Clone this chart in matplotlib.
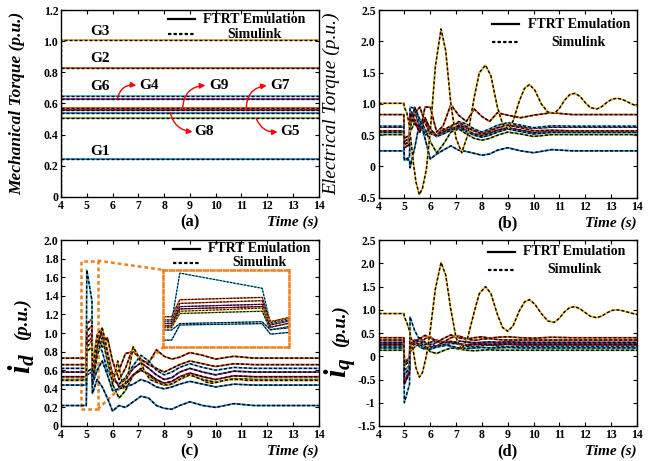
import matplotlib
matplotlib.use('agg')
import matplotlib.pyplot as plt
from matplotlib.patches import Rectangle

plt.rcParams['font.family'] = 'Liberation Serif'
plt.rcParams['font.weight'] = 'bold'
plt.rcParams['mathtext.fontset'] = 'custom'
plt.rcParams['mathtext.it'] = 'Liberation Serif:italic:bold'
plt.rcParams['mathtext.rm'] = 'Liberation Serif:bold'
plt.rcParams['xtick.direction'] = 'in'
plt.rcParams['ytick.direction'] = 'in'
plt.rcParams['xtick.top'] = True
plt.rcParams['ytick.right'] = True

gens = ['G1', 'G2', 'G3', 'G4', 'G5', 'G6', 'G7', 'G8', 'G9']
colors = ['#2a88cc', '#D95319', '#EDB120', '#7E2F8E', '#77AC30',
          '#4DBEEE', '#A2142F', '#2a88cc', '#D95319']

# (a) mechanical torque
t_mech = [4.0, 4.0, 14.0]
tm_start = [0.245, 0.83, 0.0, 0.628, 0.505, 0.647, 0.555, 0.54, 0.57]
tm = [0.245, 0.83, 1.01, 0.628, 0.505, 0.647, 0.555, 0.54, 0.57]

# coarse time grid (all gens except G3)
t_c = [4.0, 4.98, 5.0, 5.2, 5.22, 5.4, 5.6, 5.8, 6.0, 6.25, 6.5, 6.8,
       7.1, 7.4, 7.7, 8.0, 8.3, 8.6, 9.0, 9.5, 10.0, 10.7, 11.5, 14.0]
# fine time grid (G3)
t_f = [4.0, 4.0, 4.98, 5.0, 5.1, 5.2, 5.22, 5.35, 5.45, 5.58,
       5.7, 5.85, 6.0, 6.2, 6.42, 6.6, 6.8, 7.0, 7.22, 7.45,
       7.7, 7.9, 8.14, 8.35, 8.6, 8.8, 9.0, 9.2, 9.45, 9.65,
       9.84, 10.05, 10.3, 10.55, 10.8, 11.0, 11.2, 11.4, 11.6, 11.8,
       12.0, 12.2, 12.45, 12.65, 12.85, 13.05, 13.25, 13.45, 13.65, 13.85,
       14.0]

# (b) electrical torque
te_g1 = [0.25, 0.25, 0.12, 0.10, -0.02, 0.30, 0.72, 0.45, 0.12, 0.20, 0.26, 0.33,
         0.26, 0.24, 0.21, 0.18, 0.20, 0.26, 0.30, 0.25, 0.22, 0.27, 0.25, 0.25]
te_g2 = [0.83, 0.83, 0.45, 0.50, 0.90, 0.75, 0.55, 0.95, 0.95, 0.55, 0.65, 0.99,
         0.82, 0.72, 0.92, 0.80, 0.72, 0.86, 0.82, 0.78, 0.82, 0.86, 0.83, 0.83]
te_g3 = [1.01, 1.01, 1.01, 0.95, 0.85, 0.65, 0.55, 0.05, -0.25, -0.45,
         -0.35, -0.05, 0.55, 1.6, 2.2, 1.85, 1.0, 0.45, 0.22, 0.5,
         1.1, 1.5, 1.62, 1.45, 0.95, 0.68, 0.6, 0.72, 1.05, 1.25,
         1.31, 1.22, 1.0, 0.87, 0.85, 0.93, 1.06, 1.15, 1.17, 1.12,
         1.02, 0.94, 0.92, 0.96, 1.03, 1.08, 1.09, 1.07, 1.03, 0.99,
         0.97]
te_g4 = [0.63, 0.63, 0.40, 0.45, 0.80, 0.90, 0.60, 0.75, 0.55, 0.50, 0.60, 0.58,
         0.66, 0.62, 0.57, 0.55, 0.58, 0.62, 0.66, 0.64, 0.61, 0.63, 0.63, 0.63]
te_g5 = [0.51, 0.51, 0.30, 0.35, 0.55, 0.70, 0.75, 0.60, 0.40, 0.22, 0.35, 0.55,
         0.60, 0.52, 0.45, 0.42, 0.45, 0.50, 0.55, 0.52, 0.48, 0.51, 0.51, 0.51]
te_g6 = [0.645, 0.645, 0.35, 0.40, 0.95, 0.93, 0.70, 0.55, 0.60, 0.50, 0.55, 0.62,
         0.72, 0.68, 0.60, 0.55, 0.60, 0.66, 0.70, 0.66, 0.62, 0.65, 0.645, 0.645]
te_g7 = [0.56, 0.56, 0.30, 0.35, 0.85, 0.70, 0.55, 0.78, 0.60, 0.48, 0.55, 0.60,
         0.64, 0.58, 0.52, 0.50, 0.53, 0.58, 0.62, 0.58, 0.54, 0.56, 0.56, 0.56]
te_g8 = [0.545, 0.545, 0.10, 0.15, 0.60, 0.95, 0.75, 0.50, 0.55, 0.48, 0.52, 0.58,
         0.62, 0.56, 0.50, 0.47, 0.50, 0.55, 0.60, 0.56, 0.52, 0.545, 0.545, 0.545]
te_g9 = [0.57, 0.57, 0.35, 0.40, 0.65, 0.85, 0.95, 0.70, 0.52, 0.50, 0.58, 0.65,
         0.70, 0.64, 0.57, 0.52, 0.56, 0.62, 0.66, 0.62, 0.57, 0.58, 0.57, 0.57]

# (c) d-axis current
id_g1 = [0.22, 0.22, 0.55, 0.58, 0.35, 0.50, 0.42, 0.30, 0.16, 0.22, 0.20, 0.26,
         0.32, 0.30, 0.22, 0.19, 0.18, 0.22, 0.26, 0.22, 0.20, 0.24, 0.22, 0.22]
id_g2 = [0.73, 0.73, 1.10, 1.15, 0.62, 0.95, 0.85, 0.95, 0.70, 0.50, 0.62, 0.85,
         0.70, 0.68, 0.82, 0.75, 0.72, 0.74, 0.79, 0.76, 0.72, 0.75, 0.73, 0.73]
id_g3 = [0.0, 0.49, 0.49, 0.85, 0.88, 0.92, 0.6, 0.85, 1.0, 1.05,
         0.95, 0.7, 0.45, 0.7, 0.4, 0.55, 0.85, 0.75, 0.6, 0.5,
         0.47, 0.45, 0.44, 0.46, 0.5, 0.54, 0.55, 0.53, 0.5, 0.47,
         0.46, 0.47, 0.49, 0.5, 0.5, 0.5, 0.49, 0.49, 0.49, 0.49,
         0.49, 0.49, 0.49, 0.49, 0.49, 0.49, 0.49, 0.49, 0.49, 0.49,
         0.49]
id_g4 = [0.58, 0.58, 0.95, 1.00, 0.55, 0.90, 1.00, 0.75, 0.50, 0.45, 0.50, 0.62,
         0.68, 0.62, 0.55, 0.50, 0.52, 0.58, 0.62, 0.58, 0.55, 0.59, 0.58, 0.58]
id_g5 = [0.50, 0.50, 0.80, 0.85, 0.44, 0.75, 0.95, 0.70, 0.45, 0.30, 0.38, 0.55,
         0.62, 0.55, 0.48, 0.44, 0.45, 0.50, 0.55, 0.50, 0.47, 0.51, 0.50, 0.50]
id_g6 = [0.62, 0.62, 1.68, 1.35, 0.58, 0.90, 0.80, 0.60, 0.50, 0.45, 0.52, 0.65,
         0.76, 0.70, 0.60, 0.55, 0.58, 0.63, 0.67, 0.63, 0.60, 0.63, 0.62, 0.62]
id_g7 = [0.53, 0.53, 0.90, 0.95, 0.50, 0.85, 1.05, 0.80, 0.55, 0.42, 0.45, 0.55,
         0.60, 0.56, 0.50, 0.46, 0.48, 0.53, 0.57, 0.53, 0.50, 0.54, 0.53, 0.53]
id_g8 = [0.44, 0.44, 0.58, 0.62, 0.45, 0.60, 0.70, 0.55, 0.38, 0.40, 0.42, 0.45,
         0.50, 0.47, 0.42, 0.40, 0.42, 0.45, 0.48, 0.45, 0.42, 0.45, 0.44, 0.44]
id_g9 = [0.66, 0.66, 1.02, 1.08, 0.62, 0.98, 1.05, 0.75, 0.55, 0.60, 0.78, 0.80,
         0.72, 0.66, 0.62, 0.58, 0.62, 0.66, 0.70, 0.67, 0.64, 0.67, 0.66, 0.66]

# (d) q-axis current
iq_g1 = [0.27, 0.27, -0.10, -0.05, 0.30, 0.35, 0.20, 0.15, 0.25, 0.30, 0.32, 0.30,
         0.27, 0.25, 0.27, 0.28, 0.26, 0.27, 0.28, 0.27, 0.27, 0.27, 0.27, 0.27]
iq_g2 = [0.40, 0.40, -0.20, -0.10, 0.35, 0.25, 0.38, 0.45, 0.40, 0.30, 0.38, 0.46,
         0.40, 0.37, 0.40, 0.42, 0.39, 0.41, 0.42, 0.40, 0.39, 0.41, 0.40, 0.40]
iq_g3 = [0.92, 0.92, 0.92, 0.85, 0.72, 0.55, 0.5, 0.1, -0.25, -0.45,
         -0.35, 0.0, 0.55, 1.45, 2.02, 1.75, 1.0, 0.4, 0.15, 0.4,
         0.95, 1.35, 1.5, 1.35, 0.9, 0.62, 0.54, 0.65, 0.98, 1.17,
         1.22, 1.12, 0.92, 0.76, 0.73, 0.82, 0.96, 1.05, 1.07, 1.02,
         0.94, 0.86, 0.83, 0.87, 0.94, 0.99, 1.0, 0.98, 0.95, 0.92,
         0.9]
iq_g4 = [0.30, 0.30, -0.55, -0.30, 0.20, 0.35, 0.32, 0.25, 0.30, 0.35, 0.30, 0.28,
         0.33, 0.31, 0.29, 0.30, 0.31, 0.30, 0.31, 0.30, 0.30, 0.30, 0.30, 0.30]
iq_g5 = [0.13, 0.13, -0.30, -0.20, 0.10, 0.20, 0.28, 0.22, 0.10, 0.06, 0.12, 0.18,
         0.16, 0.13, 0.12, 0.13, 0.14, 0.13, 0.13, 0.13, 0.13, 0.13, 0.13, 0.13]
iq_g6 = [0.22, 0.22, -1.00, -0.60, 0.85, 0.55, 0.35, 0.25, 0.30, 0.20, 0.22, 0.28,
         0.26, 0.22, 0.20, 0.23, 0.24, 0.22, 0.21, 0.22, 0.22, 0.22, 0.22, 0.22]
iq_g7 = [0.25, 0.25, -0.60, -0.35, 0.15, 0.30, 0.40, 0.30, 0.20, 0.22, 0.30, 0.32,
         0.27, 0.24, 0.25, 0.26, 0.25, 0.25, 0.26, 0.25, 0.25, 0.25, 0.25, 0.25]
iq_g8 = [0.18, 0.18, -0.40, -0.25, 0.20, 0.32, 0.25, 0.18, 0.15, 0.20, 0.25, 0.22,
         0.18, 0.17, 0.18, 0.19, 0.18, 0.18, 0.19, 0.18, 0.18, 0.18, 0.18, 0.18]
iq_g9 = [0.35, 0.35, -0.15, -0.05, 0.40, 0.30, 0.25, 0.38, 0.42, 0.32, 0.30, 0.40,
         0.44, 0.38, 0.34, 0.37, 0.38, 0.36, 0.35, 0.35, 0.35, 0.35, 0.35, 0.35]

te_all = [te_g1, te_g2, te_g3, te_g4, te_g5, te_g6, te_g7, te_g8, te_g9]
id_all = [id_g1, id_g2, id_g3, id_g4, id_g5, id_g6, id_g7, id_g8, id_g9]
iq_all = [iq_g1, iq_g2, iq_g3, iq_g4, iq_g5, iq_g6, iq_g7, iq_g8, iq_g9]

xticks = list(range(4, 15))
yt_a = [0, 0.2, 0.4, 0.6, 0.8, 1.0, 1.2]
yl_a = ['0', '0.2', '0.4', '0.6', '0.8', '1.0', '1.2']
yt_b = [-0.5, 0, 0.5, 1.0, 1.5, 2.0, 2.5]
yl_b = ['-0.5', '0', '0.5', '1.0', '1.5', '2.0', '2.5']
yt_c = [0, 0.2, 0.4, 0.6, 0.8, 1.0, 1.2, 1.4, 1.6, 1.8, 2.0]
yl_c = ['0', '0.2', '0.4', '0.6', '0.8', '1.0', '1.2', '1.4', '1.6', '1.8', '2.0']
yt_d = [-1.5, -1, -0.5, 0, 0.5, 1.0, 1.5, 2.0, 2.5]
yl_d = ['-1.5', '-1', '-0.5', '0', '0.5', '1.0', '1.5', '2.0', '2.5']

# generator labels in (a): (name, text pos, arrow start, arrow end, rad)
plain_labels = [('G3', 5.52, 1.065), ('G2', 5.52, 0.89), ('G6', 5.52, 0.712), ('G1', 5.52, 0.29)]
arrow_labels = [('G4', (7.42, 0.716), (6.19, 0.63), (6.92, 0.716), -0.45),
                ('G9', (10.12, 0.716), (8.72, 0.566), (9.6, 0.716), -0.45),
                ('G7', (12.5, 0.716), (11.19, 0.555), (11.98, 0.716), -0.45),
                ('G8', (9.56, 0.418), (8.23, 0.544), (9.1, 0.418), 0.35),
                ('G5', (12.9, 0.418), (11.58, 0.50), (12.4, 0.418), 0.35)]

ORANGE = '#F07F1A'


def draw(ax, t, y, c):
    ax.plot(t, y, color=c, lw=1.3)
    ax.plot(t, y, color='k', lw=1.0, ls=(0, (2.2, 1.4)))


def style(ax, ylim, yt, yl, tag):
    ax.set_xlim(4, 14)
    ax.set_ylim(*ylim)
    ax.set_xticks(xticks)
    ax.set_xticklabels([str(v) for v in xticks], fontsize=8.5, fontweight='bold')
    ax.set_yticks(yt)
    ax.set_yticklabels(yl, fontsize=8.5, fontweight='bold')
    ax.tick_params(length=3, width=0.8, pad=2)
    for s in ax.spines.values():
        s.set_linewidth(1.0)
    ax.text(0.5, -0.135, tag, transform=ax.transAxes, ha='center', va='center',
            fontsize=12, fontweight='bold')
    ax.text(1.0, -0.135, 'Time (s)', transform=ax.transAxes, ha='right', va='center',
            fontsize=11, fontweight='bold', style='italic')


def legend(ax, x0, x1, xt, y1, y2):
    ax.plot([x0, x1], [y1, y1], transform=ax.transAxes, color='k', lw=1.6)
    ax.plot([x0, x1], [y2, y2], transform=ax.transAxes, color='k', lw=1.6, ls=(0, (1.5, 1.0)))
    ax.text(xt, y1, 'FTRT Emulation', transform=ax.transAxes, ha='center', va='center',
            fontsize=10, fontweight='bold')
    ax.text(xt, y2, 'Simulink', transform=ax.transAxes, ha='center', va='center',
            fontsize=10, fontweight='bold')


fig = plt.figure(figsize=(6.56, 4.61), dpi=100)
ax_a = fig.add_axes([0.093, 0.573, 0.393, 0.405])
ax_b = fig.add_axes([0.577, 0.571, 0.394, 0.407])
ax_c = fig.add_axes([0.093, 0.076, 0.393, 0.403])
ax_d = fig.add_axes([0.577, 0.076, 0.394, 0.403])

order = [0, 1, 3, 4, 5, 6, 7, 8, 2]

# (a)
for i in order:
    draw(ax_a, t_mech, [tm_start[i], tm[i], tm[i]], colors[i])
style(ax_a, (0, 1.2), yt_a, yl_a, '(a)')
ax_a.set_ylabel('Mechanical Torque (p.u.)', fontsize=12.5, fontweight='bold', style='italic')
ax_a.yaxis.set_label_coords(-0.14, 0.5)
legend(ax_a, 0.415, 0.519, 0.75, 0.952, 0.872)
for name, x, y in plain_labels:
    ax_a.text(x, y, name, ha='center', va='center', fontsize=11, fontweight='bold')
for name, tp, p0, p1, rad in arrow_labels:
    ax_a.annotate('', xy=p1, xytext=p0,
                  arrowprops=dict(arrowstyle='-|>', color='red', lw=1.0, mutation_scale=8,
                                  shrinkA=0, shrinkB=0, connectionstyle='arc3,rad=%g' % rad))
    ax_a.text(tp[0], tp[1], name, ha='center', va='center', fontsize=11, fontweight='bold')

# (b)
for i in order:
    t = t_f if i == 2 else t_c
    draw(ax_b, t, te_all[i], colors[i])
style(ax_b, (-0.5, 2.5), yt_b, yl_b, '(b)')
ax_b.set_ylabel('Electrical Torque (p.u.)', fontsize=14, fontweight='normal', style='italic')
ax_b.yaxis.set_label_coords(-0.15, 0.5)
legend(ax_b, 0.44, 0.545, 0.775, 0.924, 0.828)

# (c)
for i in order:
    t = t_f if i == 2 else t_c
    draw(ax_c, t, id_all[i], colors[i])
style(ax_c, (0, 2.0), yt_c, yl_c, '(c)')
ax_c.text(-0.151, 0.575, '(p.u.)', transform=ax_c.transAxes, rotation=90, ha='center',
          va='center', fontsize=13.5, fontweight='bold', style='italic')
ax_c.text(-0.151, 0.34, r'$i_d$', transform=ax_c.transAxes, rotation=90, ha='center',
          va='center', fontsize=22)
legend(ax_c, 0.435, 0.54, 0.77, 0.955, 0.878)

# zoom box and inset
ax_c.add_patch(Rectangle((4.77, 0.18), 0.65, 1.6, fill=False, ec=ORANGE, lw=1.8,
                         ls=(0, (1.5, 1.2)), zorder=1))
ax_c.plot([5.42, 7.97], [1.78, 1.68], color=ORANGE, lw=1.8, ls=(0, (1.5, 1.2)), zorder=1)
ax_c.plot([5.42, 7.97], [0.18, 0.85], color=ORANGE, lw=1.8, ls=(0, (1.5, 1.2)), zorder=1)
axin = ax_c.inset_axes([7.97, 0.85, 4.87, 0.83], transform=ax_c.transData)
for i in order:
    t = t_f if i == 2 else t_c
    axin.plot(t, id_all[i], color=colors[i], lw=1.0)
    axin.plot(t, id_all[i], color='k', lw=0.7, ls=(0, (2.2, 1.4)))
axin.set_xlim(4.96, 5.265)
axin.set_ylim(0.07, 1.75)
axin.set_xticks([])
axin.set_yticks([])
axin.patch.set_alpha(0)
for s in axin.spines.values():
    s.set_color(ORANGE)
    s.set_linewidth(1.8)
    s.set_linestyle((0, (1.5, 1.2)))

# (d)
for i in order:
    t = t_f if i == 2 else t_c
    draw(ax_d, t, iq_all[i], colors[i])
style(ax_d, (-1.5, 2.5), yt_d, yl_d, '(d)')
ax_d.text(-0.147, 0.54, '(p.u.)', transform=ax_d.transAxes, rotation=90, ha='center',
          va='center', fontsize=13.5, fontweight='bold', style='italic')
ax_d.text(-0.147, 0.315, r'$i_q$', transform=ax_d.transAxes, rotation=90, ha='center',
          va='center', fontsize=22)
legend(ax_d, 0.423, 0.527, 0.758, 0.937, 0.842)

plt.savefig('out.png', dpi=100)
